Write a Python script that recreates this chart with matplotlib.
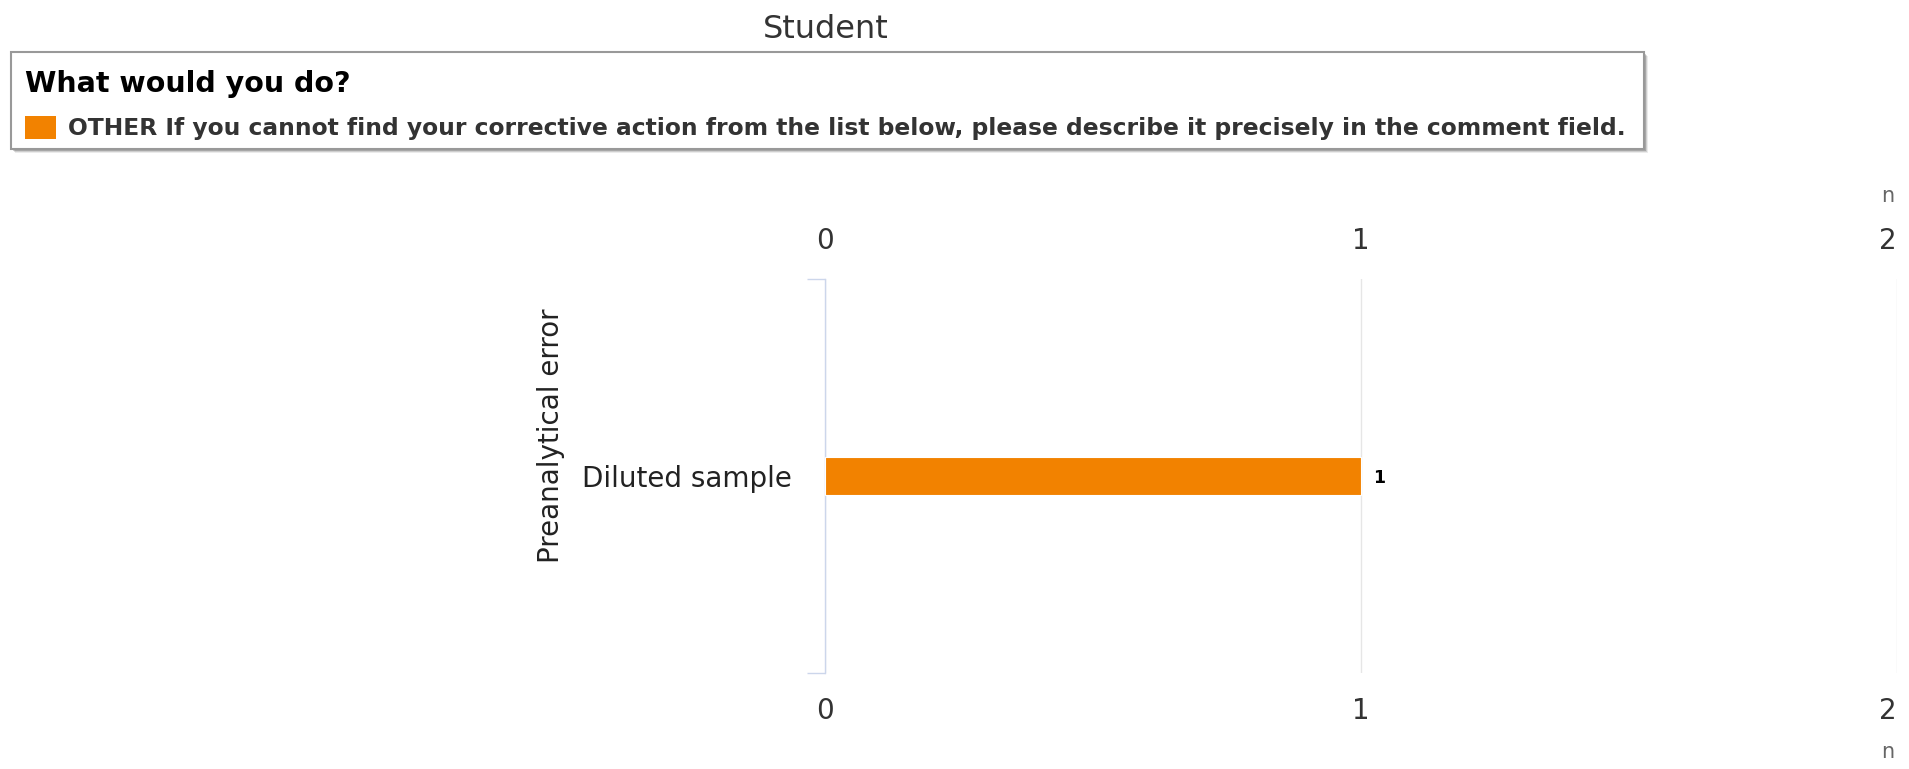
import matplotlib.pyplot as plt
from matplotlib.patches import Rectangle

# chart data
categories = ['Diluted sample']
counts = [1]
group_label = 'Preanalytical error'
x_ticks = [0, 1, 2]
chart_title = 'Student'
legend_title = 'What would you do?'
series_name = ('OTHER If you cannot find your corrective action from the list below, '
               'please describe it precisely in the comment field.')
bar_color = '#f28200'

W, H = 1909, 769
fig = plt.figure(figsize=(W / 100, H / 100), dpi=100)


def fx(px):
    return px / W


def fy(py):
    return 1 - py / H


# plot area
ax = fig.add_axes([fx(825), fy(673), (1897 - 825) / W, (673 - 279) / H])
ypos = list(range(len(categories)))
ax.barh(ypos, counts, height=0.094, color=bar_color, edgecolor='white',
        linewidth=0.8, zorder=3)
for y, v in zip(ypos, counts):
    ax.annotate(str(v), (v, y), xytext=(9, 0), textcoords='offset points',
                ha='left', va='center_baseline', fontsize=12.5, fontweight='bold',
                color='black')

ax.set_xlim(0, 2)
ax.set_ylim(-0.5, len(categories) - 0.5)
ax.set_xticks(x_ticks)
ax.tick_params(axis='x', length=0, labelsize=20, labelcolor='#333333',
               labeltop=True, labelbottom=True, pad=17.5)
last = ax.xaxis.get_major_ticks()[-1]
last.label1.set_ha('right')
last.label2.set_ha('right')

ax.set_yticks(ypos, categories)
ax.set_yticks([-0.5, len(categories) - 0.5], minor=True)
ax.tick_params(axis='y', which='major', length=0, pad=24, labelsize=20,
               labelcolor='#222222')
ax.tick_params(axis='y', which='minor', length=13, width=1, color='#ccd6eb')

for side in ['top', 'right', 'bottom']:
    ax.spines[side].set_visible(False)
ax.spines['left'].set_color('#ccd6eb')
ax.spines['left'].set_linewidth(1)
ax.grid(axis='x', color='#e6e6e6', linewidth=1)
ax.set_axisbelow(True)

# titles and axis unit labels
fig.text(fx(826), fy(29), chart_title, ha='center', va='center', fontsize=23,
         color='#333333')
fig.text(fx(551), fy(436), group_label, rotation=90, ha='center', va='center',
         fontsize=20, color='#222222')
fig.text(fx(1894), fy(196), 'n', ha='right', va='center', fontsize=15, color='#666666')
fig.text(fx(1894), fy(752), 'n', ha='right', va='center', fontsize=15, color='#666666')

# legend box with a soft shadow
for off, alpha in [(4, 0.08), (3, 0.12), (2, 0.18)]:
    fig.patches.append(Rectangle((fx(11 + off), fy(149 + off)), (1644 - 11) / W, (149 - 52) / H,
                                 transform=fig.transFigure, facecolor='#000000',
                                 edgecolor='none', alpha=alpha, zorder=1))
fig.patches.append(Rectangle((fx(11), fy(149)), (1644 - 11) / W, (149 - 52) / H,
                             transform=fig.transFigure, facecolor='white',
                             edgecolor='#999999', linewidth=1.5, zorder=2))
fig.patches.append(Rectangle((fx(25), fy(139)), 31 / W, 23 / H,
                             transform=fig.transFigure, facecolor=bar_color,
                             edgecolor='none', zorder=3))
fig.text(fx(25), fy(84), legend_title, ha='left', va='center', fontsize=20.5,
         fontweight='bold', color='black', zorder=3)
item = fig.text(fx(68), fy(128), series_name, ha='left', va='center', fontsize=16,
                fontweight='bold', color='#333333', zorder=3)

# stretch the series name to span the legend box
renderer = fig.canvas.get_renderer()
width = item.get_window_extent(renderer).width
item.set_fontsize(16 * (1629 - 68) / width)

fig.savefig('out.png', dpi=100)
